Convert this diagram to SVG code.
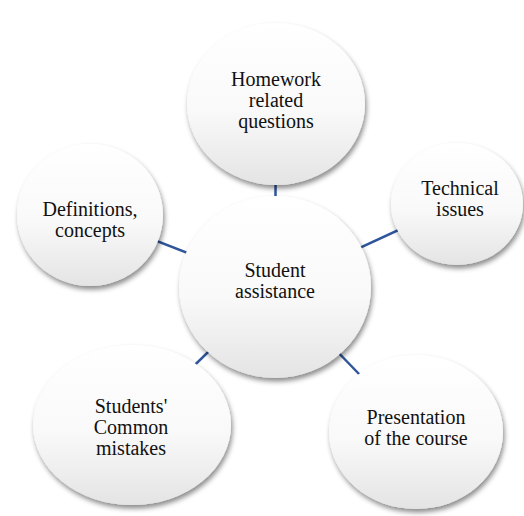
<svg xmlns="http://www.w3.org/2000/svg" width="524" height="516" viewBox="0 0 524 516">
  <defs>
    <linearGradient id="g" x1="0" y1="0" x2="0" y2="1">
      <stop offset="0" stop-color="#ffffff"/>
      <stop offset="0.55" stop-color="#f9f9f9"/>
      <stop offset="1" stop-color="#e4e4e4"/>
    </linearGradient>
    <filter id="sh" x="-20%" y="-20%" width="140%" height="140%">
      <feDropShadow dx="1.5" dy="3.5" stdDeviation="2.5" flood-color="#000" flood-opacity="0.45"/>
    </filter>
  </defs>
  <style>
    .n { fill: url(#g); filter: url(#sh); }
    .t { font-family: 'Times New Roman', 'Liberation Serif', 'DejaVu Serif', serif; font-size: 20px; fill: #111; text-anchor: middle; }
    .c { stroke: #2F559B; stroke-width: 2.5; fill: none; }
  </style>
  <rect width="524" height="516" fill="#ffffff"/>
  <g id="connectors">
    <line class="c" x1="275" y1="287" x2="276" y2="105"/>
    <line class="c" x1="275" y1="287" x2="457" y2="203"/>
    <line class="c" x1="275" y1="287" x2="416" y2="433"/>
    <line class="c" x1="275" y1="287" x2="132" y2="426"/>
    <line class="c" x1="275" y1="287" x2="90" y2="215"/>
  </g>
  <g id="homework">
    <ellipse class="n" cx="276" cy="104" rx="89" ry="81"/>
    <text class="t" x="276" y="86">Homework</text>
    <text class="t" x="276" y="107">related</text>
    <text class="t" x="276" y="128">questions</text>
  </g>
  <g id="technical">
    <ellipse class="n" cx="457" cy="204" rx="66" ry="61"/>
    <text class="t" x="460" y="195">Technical</text>
    <text class="t" x="460" y="216">issues</text>
  </g>
  <g id="definitions">
    <ellipse class="n" cx="90" cy="215" rx="73" ry="71"/>
    <text class="t" x="90" y="216">Definitions,</text>
    <text class="t" x="90" y="237">concepts</text>
  </g>
  <g id="students">
    <ellipse class="n" cx="132" cy="425" rx="99" ry="80"/>
    <text class="t" x="131" y="413">Students'</text>
    <text class="t" x="131" y="434">Common</text>
    <text class="t" x="131" y="455">mistakes</text>
  </g>
  <g id="presentation">
    <ellipse class="n" cx="416" cy="432" rx="87" ry="77"/>
    <text class="t" x="416" y="424">Presentation</text>
    <text class="t" x="416" y="445">of the course</text>
  </g>
  <g id="center">
    <ellipse class="n" cx="275" cy="287" rx="96" ry="91"/>
    <text class="t" x="275" y="277">Student</text>
    <text class="t" x="275" y="298">assistance</text>
  </g>
</svg>
